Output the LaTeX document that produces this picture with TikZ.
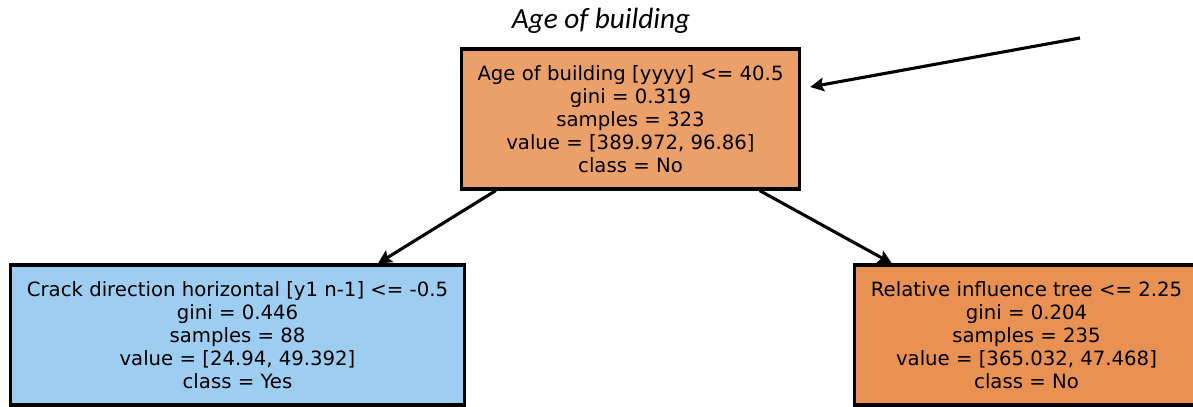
\documentclass[tikz,border=0pt]{standalone}
\usepackage{fontspec}
\setmainfont{DejaVu Sans}
\newfontfamily\titlefont{Carlito}
\usetikzlibrary{positioning,arrows.meta}
\definecolor{rootorange}{RGB}{235,160,106}
\definecolor{leaforange}{RGB}{232,145,83}
\definecolor{leafblue}{RGB}{157,206,242}
\tikzset{
  treebox/.style={draw, line width=2.2pt, align=center,
    font=\fontsize{14}{16.4}\selectfont, inner xsep=11.5pt, minimum height=3.5cm},
  treearrow/.style={-{Stealth[length=3.4mm, width=3.4mm, inset=0.6mm]}, line width=2.2pt},
  treetitle/.style={font=\titlefont\itshape\fontsize{20.8}{24}\selectfont, anchor=base},
}

\begin{document}
\begin{tikzpicture}[x=0.025cm, y=-0.025cm]
  \useasboundingbox (0,0) rectangle (1193,407);
  \node[treetitle] (title) at (601,29) {Age of building};
  \node[treebox, fill=rootorange] (root) at (630.5,119)
    {Age of building [yyyy] <= 40.5\\gini = 0.319\\samples = 323\\value = [389.972, 96.86]\\class = No};
  \node[treebox, fill=leafblue] (left) at (237.5,335)
    {Crack direction horizontal [y1 n-1] <= -0.5\\gini = 0.446\\samples = 88\\value = [24.94, 49.392]\\class = Yes};
  \node[treebox, fill=leaforange] (right) at (1026.5,335)
    {Relative influence tree <= 2.25\\gini = 0.204\\samples = 235\\value = [365.032, 47.468]\\class = No};
  % split edges
  \draw[treearrow] (root.208.7) -- (left.27.5);
  \draw[treearrow] (root.331.6) -- (right.152.8);
  % pointer to the root
  \coordinate (src) at (1080,38);
  \draw[treearrow] (src) -- ([xshift=0.225cm, yshift=0.8cm]root.east);
\end{tikzpicture}
\end{document}
